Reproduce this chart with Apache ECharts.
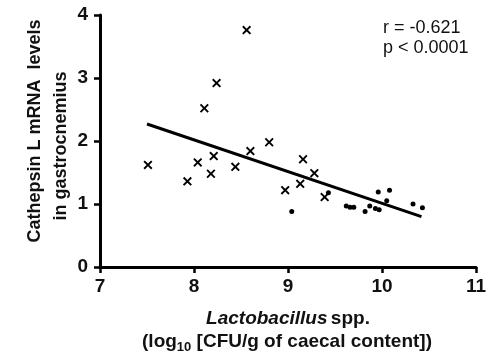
<!DOCTYPE html>
<html>
<head>
<meta charset="utf-8">
<script src="https://cdn.jsdelivr.net/npm/echarts@6/dist/echarts.min.js"></script>
<style>
html,body{margin:0;padding:0;background:#fff;}
#chart{width:491px;height:357px;}
</style>
</head>
<body>
<div id="chart"></div>
<script>
// Data
var crossX = [7.51, 7.93, 8.04, 8.21, 8.18, 8.11, 8.24, 8.56, 8.44, 8.60, 8.80, 9.16, 9.28, 9.13, 8.97, 9.39];
var crossY = [1.62, 1.36, 1.66, 1.76, 1.48, 2.52, 2.92, 3.76, 1.59, 1.84, 1.98, 1.71, 1.49, 1.32, 1.22, 1.11];
var dotX = [9.04, 9.43, 9.62, 9.66, 9.70, 9.82, 9.87, 9.93, 9.97, 9.96, 10.08, 10.05, 10.33, 10.43];
var dotY = [0.88, 1.18, 0.97, 0.95, 0.95, 0.88, 0.97, 0.93, 0.91, 1.19, 1.22, 1.05, 1.00, 0.94];
var fitX = [7.5, 10.42];
var fitY = [2.27, 0.80];
var xTicks = [7, 8, 9, 10, 11];
var yTicks = [0, 1, 2, 3, 4];
var statLines = ['r = -0.621', 'p < 0.0001'];
var yTitle = ['Cathepsin L mRNA  levels', 'in gastrocnemius'];

function zip(a, b) { return a.map(function (v, i) { return [v, b[i]]; }); }

var FONT = 'Liberation Sans, Arial, Helvetica, sans-serif';
var crossPath = 'path://M1.5,0 L5,3.5 L8.5,0 L10,1.5 L6.5,5 L10,8.5 L8.5,10 L5,6.5 L1.5,10 L0,8.5 L3.5,5 L0,1.5 Z';

var chart = echarts.init(document.getElementById('chart'), null, {renderer: 'canvas'});
var axisCommon = {
  axisLine: {show: true, onZero: false, lineStyle: {color: '#000', width: 3}},
  axisTick: {show: true, inside: false, length: 6, lineStyle: {color: '#000', width: 2.5}},
  splitLine: {show: false},
  axisLabel: {color: '#111', fontSize: 19, fontWeight: 'bold', fontFamily: FONT}
};
chart.setOption({
  animation: false,
  backgroundColor: '#fff',
  grid: {left: 100, right: 15, top: 15, bottom: 90, containLabel: false},
  xAxis: Object.assign({}, axisCommon, {
    type: 'value', min: xTicks[0], max: xTicks[xTicks.length - 1], interval: 1,
    axisLabel: Object.assign({}, axisCommon.axisLabel, {margin: 10,
      formatter: function (v) { return xTicks.indexOf(v) >= 0 ? String(v) : ''; }})
  }),
  yAxis: Object.assign({}, axisCommon, {
    type: 'value', min: yTicks[0], max: yTicks[yTicks.length - 1], interval: 1,
    axisLabel: Object.assign({}, axisCommon.axisLabel, {margin: 12,
      formatter: function (v) { return yTicks.indexOf(v) >= 0 ? String(v) : ''; }})
  }),
  series: [
    {type: 'line', data: zip(fitX, fitY), symbol: 'none', lineStyle: {color: '#000', width: 3}, z: 2},
    {type: 'scatter', data: zip(crossX, crossY), symbol: crossPath, symbolSize: 9, itemStyle: {color: '#000', opacity: 1}, z: 3},
    {type: 'scatter', data: zip(dotX, dotY), symbol: 'circle', symbolSize: 5, itemStyle: {color: '#000', opacity: 1}, z: 3}
  ],
  graphic: [
    {type: 'text', left: 383, top: 18, style: {text: statLines.join('\n'), font: '18px ' + FONT, fill: '#111', lineHeight: 20}},
    {type: 'text', x: 35, y: 131, rotation: Math.PI / 2,
      style: {text: yTitle[0], font: 'bold 18px ' + FONT, fill: '#111', textAlign: 'center', textVerticalAlign: 'middle'}},
    {type: 'text', x: 61, y: 146, rotation: Math.PI / 2,
      style: {text: yTitle[1], font: 'bold 18px ' + FONT, fill: '#111', textAlign: 'center', textVerticalAlign: 'middle'}},
    {type: 'text', x: 288, y: 319,
      style: {text: '{i|Lactobacillus} {b|spp.}', textAlign: 'center', textVerticalAlign: 'middle',
        rich: {i: {fontSize: 19, fontWeight: 'bold', fontStyle: 'italic', fontFamily: FONT, fill: '#111', lineHeight: 23},
               b: {fontSize: 19, fontWeight: 'bold', fontFamily: FONT, fill: '#111', lineHeight: 23}}}},
    {type: 'text', x: 287, y: 342,
      style: {text: '{b|(log}{s|10}{b| [CFU/g of caecal content])}', textAlign: 'center', textVerticalAlign: 'middle',
        rich: {b: {fontSize: 19, fontWeight: 'bold', fontFamily: FONT, fill: '#111', lineHeight: 23},
               s: {fontSize: 13, fontWeight: 'bold', fontFamily: FONT, fill: '#111', lineHeight: 13, verticalAlign: 'bottom'}}}}
  ]
});
</script>
</body>
</html>
